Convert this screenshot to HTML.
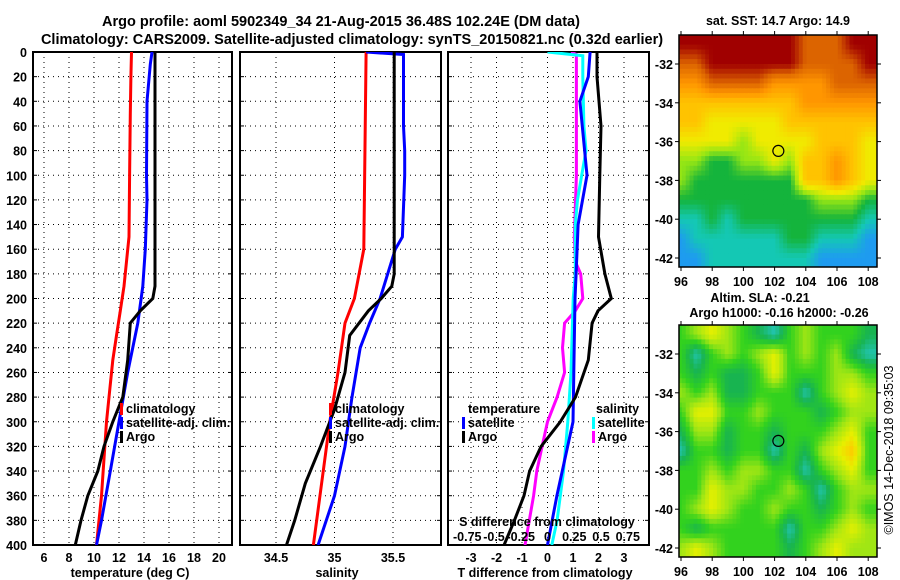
<!DOCTYPE html>
<html><head><meta charset="utf-8"><style>
html,body{margin:0;padding:0;background:#fff;}
svg{display:block;font-family:"Liberation Sans",sans-serif;font-weight:bold;}
</style></head><body>
<svg id="fig" width="900" height="580" viewBox="0 0 900 580" xmlns="http://www.w3.org/2000/svg">
<defs>
<clipPath id="c1"><rect x="33" y="52" width="199" height="493"/></clipPath>
<clipPath id="c2"><rect x="240" y="52" width="201" height="493"/></clipPath>
<clipPath id="c3"><rect x="448" y="52" width="201" height="493"/></clipPath>
<clipPath id="cm1"><rect x="679" y="35" width="198" height="232"/></clipPath>
<clipPath id="cm2"><rect x="679" y="325" width="198" height="232"/></clipPath>
</defs>
<text x="341" y="26" font-size="14.5" text-anchor="middle">Argo profile: aoml 5902349_34 21-Aug-2015 36.48S 102.24E (DM data)</text>
<text x="352" y="44" font-size="14.5" text-anchor="middle">Climatology: CARS2009. Satellite-adjusted climatology: synTS_20150821.nc (0.32d earlier)</text>
<text x="778" y="25" font-size="12.5" text-anchor="middle">sat. SST: 14.7 Argo: 14.9</text>
<text x="760" y="302" font-size="12.5" text-anchor="middle">Altim. SLA: -0.21</text>
<text x="779" y="317" font-size="12.5" text-anchor="middle">Argo h1000: -0.16 h2000: -0.26</text>
<text transform="translate(893,450) rotate(-90)" font-size="12.5" font-weight="normal" text-anchor="middle">©IMOS 14-Dec-2018 09:35:03</text>
<g id="g"></g>
</svg>
<script>
// ---- profile data ----
const tDepth = [0,20,50,100,150,170,190,210,230,250,280,300,330,360,400];
const tClim  = [13.0,12.95,12.9,12.85,12.8,12.6,12.4,12.1,11.8,11.5,11.2,11.0,10.8,10.6,10.2];
const tSatDepth = [0,10,40,100,120,160,190,220,260,300,340,380,400];
const tSat      = [14.64,14.5,14.24,14.2,14.24,14.1,13.9,13.5,12.7,12.0,11.3,10.6,10.2];
const tArgoDepth = [0,190,200,210,220,250,280,300,320,340,360,380,400];
const tArgo      = [14.88,14.88,14.7,13.7,12.9,12.7,12.3,11.5,10.8,10.3,9.5,8.96,8.5];

const sClimDepth = [0,160,200,220,260,300,350,400];
const sClim      = [35.27,35.25,35.17,35.09,35.03,34.96,34.89,34.82];
const sSatDepth = [0,2,60,80,100,150,160,200,220,240,280,320,360,400];
const sSat      = [35.27,35.59,35.59,35.6,35.6,35.58,35.52,35.39,35.3,35.22,35.15,35.09,35.0,34.86];
const sArgoDepth = [0,180,190,200,210,230,260,290,320,350,380,400];
const sArgo      = [35.51,35.51,35.49,35.4,35.29,35.13,35.09,35.0,34.88,34.75,34.66,34.59];

const dtSatDepth = [0,20,40,100,140,180,200,300,360,400];
const dtSat      = [1.67,1.6,1.27,1.55,1.2,1.12,1.08,1.0,0.37,0.0];
const dtArgoDepth = [0,20,60,100,150,180,200,210,220,250,280,300,320,340,360,380,400];
const dtArgo      = [1.94,1.94,2.1,2.05,2.0,2.25,2.5,1.98,1.75,1.6,1.1,0.5,-0.25,-0.7,-0.92,-1.3,-1.7];
const dsSatDepth = [0,3,20,60,80,100,120,140,180,200,260,300,340,380,400];
const dsSat      = [0.0,0.33,0.33,0.34,0.36,0.32,0.28,0.26,0.26,0.24,0.22,0.19,0.15,0.09,0.04];
const dsArgoDepth = [0,2,20,100,150,170,180,200,210,220,240,260,280,300,320,340,360,380,400];
const dsArgo      = [0.22,0.27,0.27,0.27,0.25,0.26,0.31,0.33,0.26,0.16,0.14,0.16,0.09,0.0,-0.05,-0.1,-0.13,-0.17,-0.21];

const tTicks = [6,8,10,12,14,16,18,20];
const sTicks = [34.5,35,35.5];
const dtTicks = [-3,-2,-1,0,1,2,3];
const dsTicks = [-0.75,-0.5,-0.25,0,0.25,0.5,0.75];
const dTicks = [0,20,40,60,80,100,120,140,160,180,200,220,240,260,280,300,320,340,360,380,400];

// ---- map data (1-degree cells, rows lat -31..-42, cols lon 96..108) ----
const mapLons = [96,97,98,99,100,101,102,103,104,105,106,107,108];
const mapLats = [-31,-32,-33,-34,-35,-36,-37,-38,-39,-40,-41,-42];
const sstGrid = [
[10,10,10,10,10,10,10,10,9,9,9,10,10],
[9,9,10,10,10,10,10,10,9,9,9,9,10],
[8,8,9,9,9,9,8,8,8,8,9,9,9],
[7,7,7,7,7,7,7,7,8,8,8,8,8],
[7,7,6,6,6,6,6,7,7,7,7,7,7],
[6,6,6,6,5,6,6,6,6,7,7,7,6],
[5,5,4,4,5,5,6,5,7,7,8,7,6],
[5,4,4,4,4,4,4,4,7,7,8,7,6],
[4,4,4,4,4,4,4,4,4,5,5,5,4],
[3,3,4,3,4,4,4,4,4,4,4,4,3],
[2,3,3,3,3,3,3,4,4,3,3,3,2],
[2,2,3,3,3,3,3,3,3,2,2,2,2]];
const slaGrid = [
[3,4,5,4,3,2,1,3,4,3,3,3,2],
[3,1,3,4,3,4,5,3,4,3,4,2,1],
[3,2,3,2,2,3,5,3,3,3,4,4,3],
[4,3,4,2,2,3,3,3,1,3,4,5,4],
[3,5,5,3,3,4,3,3,3,2,3,4,4],
[2,4,4,2,3,3,2,3,3,3,4,5,3],
[1,3,3,2,3,3,1,3,2,4,5,6,3],
[3,3,4,3,4,4,3,3,1,3,4,5,3],
[3,3,5,4,4,3,3,4,3,1,3,4,4],
[3,4,5,4,3,3,4,3,3,2,3,4,3],
[3,2,3,3,3,3,3,1,3,3,4,5,4],
[4,5,4,3,3,3,3,2,3,4,5,4,4]];
const sstColors = ["#0a5ae6","#0a5ae6","#1e9bf0","#14c8b4","#14b43c","#96e614","#f0eb00","#ffc300","#ff9600","#dc6400","#a00000"];
const slaColors = ["#22c4b0","#22c4b0","#18b450","#32d21e","#a0e614","#e6f000","#ffc800"];
const mapTicksLon = [96,98,100,102,104,106,108];
const mapTicksLat = [-32,-34,-36,-38,-40,-42];
const argoLon = 102.24, argoLat = -36.48;

const NS = "http://www.w3.org/2000/svg";
const G = document.getElementById('g');
function mk(tag, attrs, parent){ const e=document.createElementNS(NS,tag); for(const k in attrs) e.setAttribute(k,attrs[k]); (parent||G).appendChild(e); return e; }

const top0=52, bot0=545;
const yD = d => top0 + d*(bot0-top0)/400;
const xT = v => 44 + (v-6)*12.5;
const xS = v => 334.5 + (v-35)*117;
const xDT = v => 547.5 + v*25.5;
const xDS = v => 547.5 + v*107;
const FS = 12.5;

function panel(x0,x1,name,ticks,xf,showY){
  const g = mk('g',{});
  
  
  dTicks.forEach(d=>{ if(d>0&&d<400) mk('line',{x1:x0,x2:x1,y1:yD(d),y2:yD(d),stroke:'#000','stroke-width':1,'stroke-dasharray':'1,4'},g);
    mk('line',{x1:x0,x2:x0+4,y1:yD(d),y2:yD(d),stroke:'#000'},g);
    mk('line',{x1:x1-4,x2:x1,y1:yD(d),y2:yD(d),stroke:'#000'},g);
    if(showY){ const t=mk('text',{x:x0-6,y:yD(d)+5,'font-size':FS,'text-anchor':'end'},g); t.textContent=d;
      
       }
  });
  ticks.forEach(v=>{ const x=xf(v);
    mk('line',{x1:x,x2:x,y1:top0,y2:bot0,stroke:'#000','stroke-width':1,'stroke-dasharray':'1,4'},g);
    const t=mk('text',{x:x,y:562,'font-size':FS,'text-anchor':'middle'},g); t.textContent=v;
    
    
  });
  mk('rect',{x:x0,y:top0,width:x1-x0,height:bot0-top0,fill:'none',stroke:'#000','stroke-width':2},g);
  return g;
}
function line(depths, vals, xf, color, clip, name){
  const pts = depths.map((d,i)=>xf(vals[i]).toFixed(1)+','+yD(d).toFixed(1)).join(' ');
  const p = mk('polyline',{points:pts,fill:'none',stroke:color,'stroke-width':3,'clip-path':'url(#'+clip+')'});
  
  
}
function label(x,y,txt,name,size,anchor){
  const t=mk('text',{x:x,y:y,'font-size':size||FS,'text-anchor':anchor||'start'});
  t.textContent=txt;
  
  
  return t;
}
function legend(x,y,color,txt,name){
  const r=mk('rect',{x:x,y:y-10,width:3,height:12,fill:color});
  
  
  label(x+6,y,txt,name);
}

panel(33,232,'temperature-panel',tTicks,xT,true);
line(tDepth,tClim,xT,'#ff0000','c1','temp-climatology-line');
line(tSatDepth,tSat,xT,'#0000ff','c1','temp-satellite-line');
line(tArgoDepth,tArgo,xT,'#000000','c1','temp-argo-line');
label(130,577,'temperature (deg C)','temperature-axis-title',FS,'middle');
legend(120,413,'#ff0000','climatology','legend-climatology');
legend(120,427,'#0000ff','satellite-adj. clim.','legend-satellite');
legend(120,441,'#000000','Argo','legend-argo');

panel(240,441,'salinity-panel',sTicks,xS,false);
line(sClimDepth,sClim,xS,'#ff0000','c2','sal-climatology-line');
line(sSatDepth,sSat,xS,'#0000ff','c2','sal-satellite-line');
line(sArgoDepth,sArgo,xS,'#000000','c2','sal-argo-line');
label(337,577,'salinity','salinity-axis-title',FS,'middle');
legend(329,413,'#ff0000','climatology','legend-sal-climatology');
legend(329,427,'#0000ff','satellite-adj. clim.','legend-sal-satellite');
legend(329,441,'#000000','Argo','legend-sal-argo');

panel(448,649,'difference-panel',dtTicks,xDT,false);
line(dsArgoDepth,dsArgo,xDS,'#ff00ff','c3','sdiff-argo-line');
line(dsSatDepth,dsSat,xDS,'#00ffff','c3','sdiff-satellite-line');
line(dtSatDepth,dtSat,xDT,'#0000ff','c3','tdiff-satellite-line');
line(dtArgoDepth,dtArgo,xDT,'#000000','c3','tdiff-argo-line');
label(545,577,'T difference from climatology','tdiff-axis-title',FS,'middle');
label(547,526,'S difference from climatology','sdiff-axis-title',FS,'middle');
dsTicks.forEach(v=>{ label(xDS(v),541,String(v),'sdiff-tick-label',FS,'middle'); });
label(468,413,'temperature','legend-temperature-header');
legend(462,427,'#0000ff','satellite','legend-tdiff-satellite');
legend(462,441,'#000000','Argo','legend-tdiff-argo');
label(596,413,'salinity','legend-salinity-header');
legend(592,427,'#00ffff','satellite','legend-sdiff-satellite');
legend(592,441,'#ff00ff','Argo','legend-sdiff-argo');

// colour helpers
function hex2rgb(h){ return [parseInt(h.substr(1,2),16),parseInt(h.substr(3,2),16),parseInt(h.substr(5,2),16)]; }
function ramp(colors,v){
  const i=Math.max(0,Math.min(colors.length-1,Math.floor(v))), j=Math.min(colors.length-1,i+1), f=Math.max(0,Math.min(1,v-i));
  const a=hex2rgb(colors[i]), b=hex2rgb(colors[j]);
  return 'rgb('+a.map((x,k)=>Math.round(x+(b[k]-x)*f)).join(',')+')';
}
function sample(grid,lon,lat){
  const c=Math.max(0,Math.min(12,lon-96)), r=Math.max(0,Math.min(11,-31-lat));
  const c0=Math.floor(c), r0=Math.floor(r), c1=Math.min(12,c0+1), r1=Math.min(11,r0+1), fc=c-c0, fr=r-r0;
  return (grid[r0][c0]*(1-fc)+grid[r0][c1]*fc)*(1-fr)+(grid[r1][c0]*(1-fc)+grid[r1][c1]*fc)*fr;
}

function map(y0,grid,colors,clip,name,yLat32){
  const xL = v => 681 + (v-96)*15.6;
  const yL = v => yLat32 + (-32-v)*19.4;
  const g = mk('g',{'clip-path':'url(#'+clip+')'});
  
  
  const step=0.25;
  for(let lat=-30.5; lat>-42.6; lat-=step){
    for(let lon=95.8; lon<108.7; lon+=step){
      const v=sample(grid,lon+step/2,lat-step/2);
      const c=mk('rect',{x:xL(lon).toFixed(1),y:yL(lat).toFixed(1),width:(15.6*step+0.6).toFixed(1),height:(19.4*step+0.6).toFixed(1),fill:ramp(colors,v)},g);
      
      
    }
  }
  mk('circle',{cx:xL(argoLon),cy:yL(argoLat),r:5.5,fill:'none',stroke:'#000','stroke-width':1.2});
  mk('rect',{x:679,y:y0,width:198,height:232,fill:'none',stroke:'#000','stroke-width':1.5});
  mapTicksLon.forEach(v=>{ const x=xL(v);
    mk('line',{x1:x,x2:x,y1:y0-4,y2:y0,stroke:'#000'}); mk('line',{x1:x,x2:x,y1:y0+232,y2:y0+236,stroke:'#000'});
    label(x,y0+251,String(v),'lon-tick-label',FS,'middle'); });
  mapTicksLat.forEach(v=>{ const y=yL(v);
    mk('line',{x1:675,x2:679,y1:y,y2:y,stroke:'#000'}); mk('line',{x1:877,x2:881,y1:y,y2:y,stroke:'#000'});
    label(673,y+5,String(v),'lat-tick-label',FS,'end'); });
}
map(35,sstGrid,sstColors,'cm1','sst-map',64);
map(325,slaGrid,slaColors,'cm2','sla-map',354);
</script>
</body></html>
